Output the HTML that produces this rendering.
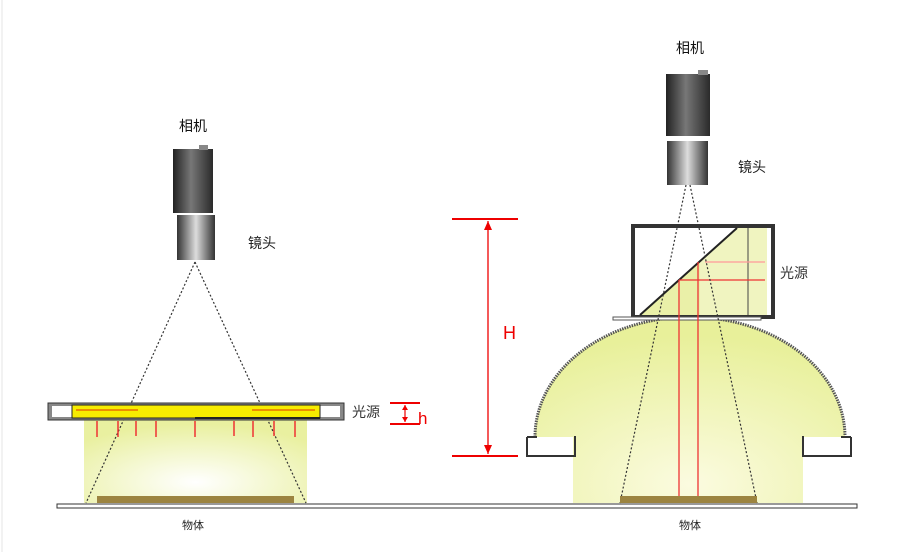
<!DOCTYPE html>
<html><head><meta charset="utf-8"><style>
html,body{margin:0;padding:0;background:#fff}
svg{display:block}
text{font-family:"Liberation Sans","Noto Sans CJK SC",sans-serif}
</style></head><body>
<svg width="900" height="552" viewBox="0 0 900 552" xmlns="http://www.w3.org/2000/svg">
<defs>
<linearGradient id="cam" x1="0" x2="1"><stop offset="0" stop-color="#222"/><stop offset=".45" stop-color="#777"/><stop offset="1" stop-color="#2a2a2a"/></linearGradient>
<linearGradient id="lens" x1="0" x2="1"><stop offset="0" stop-color="#333"/><stop offset=".5" stop-color="#ddd"/><stop offset="1" stop-color="#333"/></linearGradient>
<radialGradient id="glow" cx=".5" cy=".75" r=".7"><stop offset="0" stop-color="#ffffff"/><stop offset="1" stop-color="#e9f0a0"/></radialGradient>
<radialGradient id="dome" cx=".5" cy=".9" r=".8"><stop offset="0" stop-color="#fbfbe0"/><stop offset="1" stop-color="#e8f09a"/></radialGradient>
</defs>
<line x1="2" y1="0" x2="2" y2="552" stroke="#e4e4e4"/>
<!-- LEFT -->
<text x="193" y="131" font-size="14" text-anchor="middle" fill="#111">相机</text>
<rect x="173" y="149" width="40" height="64" fill="url(#cam)"/>
<rect x="199" y="145" width="9" height="5" fill="#888"/>
<rect x="177" y="215" width="38" height="45" fill="url(#lens)"/>
<text x="262" y="248" font-size="14" text-anchor="middle" fill="#222">镜头</text>
<rect x="84" y="420" width="223" height="83" fill="url(#glow)"/>
<g stroke="#333" stroke-width="1.2" stroke-dasharray="2,2" fill="none">
<line x1="195" y1="262" x2="86" y2="503"/><line x1="195" y1="262" x2="306" y2="503"/>
</g>
<rect x="48" y="403" width="296" height="17" fill="#888" stroke="#333"/>
<rect x="52" y="406" width="288" height="11" fill="#fff"/>
<rect x="72" y="405" width="248" height="13" fill="#f7ec00" stroke="#222" stroke-width="1"/>
<line x1="195" y1="418" x2="320" y2="418" stroke="#222" stroke-width="2"/>
<line x1="76" y1="410" x2="138" y2="410" stroke="#e03000" stroke-width="1"/>
<line x1="252" y1="410" x2="315" y2="410" stroke="#e03000" stroke-width="1"/>
<g stroke="#e33" stroke-width="1.5">
<line x1="97" y1="421" x2="97" y2="437"/><line x1="118" y1="421" x2="118" y2="437"/><line x1="136" y1="421" x2="136" y2="436"/><line x1="156" y1="421" x2="156" y2="437"/><line x1="195" y1="421" x2="195" y2="437"/><line x1="234" y1="421" x2="234" y2="436"/><line x1="253" y1="421" x2="253" y2="437"/><line x1="274" y1="421" x2="274" y2="436"/><line x1="295" y1="421" x2="295" y2="437"/>
</g>
<rect x="97" y="496" width="197" height="7" fill="#9c8440"/>
<rect x="57" y="504" width="800" height="4" fill="#fff" stroke="#333"/>
<text x="193" y="529" font-size="11" text-anchor="middle" fill="#222">物体</text>
<text x="352" y="417" font-size="14" fill="#333">光源</text>
<g stroke="#e00" stroke-width="2"><line x1="390" y1="403" x2="420" y2="403"/><line x1="390" y1="424" x2="420" y2="424"/><line x1="405" y1="405" x2="405" y2="422" stroke-width="1.2"/></g>
<path d="M405 405 l-3 5 h6z M405 422 l-3 -5 h6z" fill="#e00"/>
<text x="418" y="424" font-size="17" fill="#e00">h</text>
<!-- H -->
<g stroke="#e00" stroke-width="2"><line x1="452" y1="219" x2="518" y2="219"/><line x1="452" y1="456" x2="518" y2="456"/><line x1="488" y1="221" x2="488" y2="454" stroke-width="1.3"/></g>
<path d="M488 221 l-4 9 h8z M488 454 l-4 -9 h8z" fill="#e00"/>
<text x="503" y="339" font-size="18" fill="#e00">H</text>
<!-- RIGHT -->
<text x="690" y="53" font-size="14" text-anchor="middle" fill="#111">相机</text>
<rect x="666" y="74" width="44" height="62" fill="url(#cam)"/>
<rect x="698" y="70" width="10" height="5" fill="#888"/>
<rect x="667" y="141" width="41" height="44" fill="url(#lens)"/>
<text x="752" y="172" font-size="14" text-anchor="middle" fill="#222">镜头</text>
<path d="M535 437 A155 120 0 0 1 845 437 L803 437 L803 503 L573 503 L573 437 Z" fill="url(#dome)"/>
<path d="M535 437 A155 120 0 0 1 845 437" fill="none" stroke="#555" stroke-width="3" stroke-dasharray="1.5,1"/>
<path d="M527 437 v19 h48 v-20 M527 437 h10 M851 437 v19 h-48 v-20 M851 437 h-10" fill="none" stroke="#333" stroke-width="2"/>
<rect x="633" y="226" width="140" height="91" fill="#fff" stroke="#333" stroke-width="4"/>
<path d="M640 315 L737 228 L767 228 L767 315 Z" fill="#f0f4c0"/>
<path d="M640 315 L700 260 L700 315 Z" fill="#eaf0a8"/>
<line x1="640" y1="315" x2="737" y2="228" stroke="#222" stroke-width="2"/>
<line x1="748" y1="228" x2="748" y2="315" stroke="#444"/>
<rect x="613" y="317" width="148" height="3" fill="#fff" stroke="#555"/>
<g stroke="#e33" stroke-width="1.3"><line x1="679" y1="280" x2="679" y2="497"/><line x1="698" y1="262" x2="698" y2="497"/><line x1="679" y1="280" x2="765" y2="280"/><line x1="705" y1="262" x2="765" y2="262" stroke="#f99"/></g>
<g stroke="#333" stroke-width="1.2" stroke-dasharray="2,2" fill="none">
<line x1="686" y1="185" x2="620" y2="503"/><line x1="690" y1="185" x2="757" y2="503"/>
</g>
<rect x="620" y="496" width="137" height="7" fill="#9c8440"/>
<text x="690" y="529" font-size="11" text-anchor="middle" fill="#222">物体</text>
<text x="780" y="278" font-size="14" fill="#333">光源</text>
</svg>
</body></html>
